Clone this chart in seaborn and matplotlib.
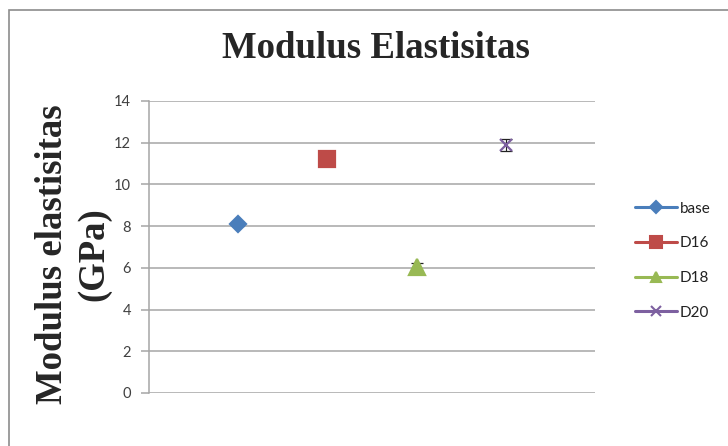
import matplotlib
matplotlib.use("Agg")
import matplotlib.pyplot as plt
from matplotlib.patches import Rectangle
from matplotlib.lines import Line2D
import seaborn as sns
import pandas as pd

# Modulus of elasticity per specimen group
series = ["base", "D16", "D18", "D20"]
positions = [1, 2, 3, 4]
modulus = [8.1, 11.2, 6.05, 11.9]
errors = [0.1, 0.1, 0.2, 0.3]
colors = ["#4A7EBB", "#BE4B48", "#98B954", "#7D60A0"]
markers = ["D", "s", "^", "x"]
marker_sizes = [8.5, 12, 11, 9]
y_ticks = [0, 2, 4, 6, 8, 10, 12, 14]

df = pd.DataFrame({"series": series, "pos": positions, "modulus": modulus})

sns.set_style("white")
plt.rcParams["font.family"] = ["Lato", "DejaVu Sans"]

fig = plt.figure(figsize=(7.28, 4.46), dpi=100)
fig.patch.set_facecolor("white")
ax = fig.add_axes([149 / 728, 1 - 393 / 446, (595 - 149) / 728, (393 - 101) / 446])

# chart border (left and top edges visible)
fig.patches.append(Rectangle((9 / 728, -0.1), 1.2, 1 - 10 / 446 + 0.1,
                             transform=fig.transFigure, fill=False,
                             edgecolor="#8C8C8C", linewidth=1.2, zorder=0))

for name, c, m, ms in zip(series, colors, markers, marker_sizes):
    sub = df[df["series"] == name]
    sns.lineplot(data=sub, x="pos", y="modulus", color=c, marker=m, ax=ax,
                 linewidth=2.2, markersize=ms, markeredgewidth=1.6,
                 markeredgecolor=c, legend=False, zorder=4)

ax.errorbar(positions, modulus, yerr=errors, fmt="none", ecolor="#222222",
            elinewidth=0.8, capsize=4, capthick=0.9, zorder=3)

ax.set_xlim(0, 5)
ax.set_ylim(0, 14)
ax.set_yticks(y_ticks)
ax.set_xticks([])
ax.yaxis.grid(True, color="#A6A6A6", linewidth=1.1)
ax.set_axisbelow(True)
for side in ["top", "right", "bottom"]:
    ax.spines[side].set_visible(False)
ax.spines["left"].set_color("#A6A6A6")
ax.spines["left"].set_linewidth(1.1)
ax.tick_params(axis="y", length=6, width=1.1, color="#A6A6A6",
               labelsize=10.5, labelcolor="#404040", pad=7, left=True)
ax.set_xlabel("")
ax.set_ylabel("")

fig.text(376 / 728, 1 - 48 / 446, "Modulus Elastisitas", ha="center", va="center",
         fontsize=26.5, fontweight="bold", family="Liberation Serif")
fig.text(73 / 728, 1 - 254 / 446, "Modulus elastisitas\n(GPa)", rotation=90,
         ha="center", va="center", multialignment="center", linespacing=1.25,
         fontsize=26.5, fontweight="bold", family="Liberation Serif")

# legend with line + marker keys
handles = []
for c, m in zip(colors, markers):
    ms = {"D": 6.5, "s": 8, "^": 7.5, "x": 7}[m]
    handles.append(Line2D([], [], color=c, marker=m, linewidth=2.2, markersize=ms,
                          markeredgewidth=1.5))
fig.legend(handles, series, loc="upper left", bbox_to_anchor=(621 / 728, 1 - 188 / 446),
           frameon=False, fontsize=11, handlelength=2.75, handletextpad=0.2,
           labelspacing=1.35, labelcolor="#222222")

fig.savefig("out.png", dpi=100, facecolor="white")
